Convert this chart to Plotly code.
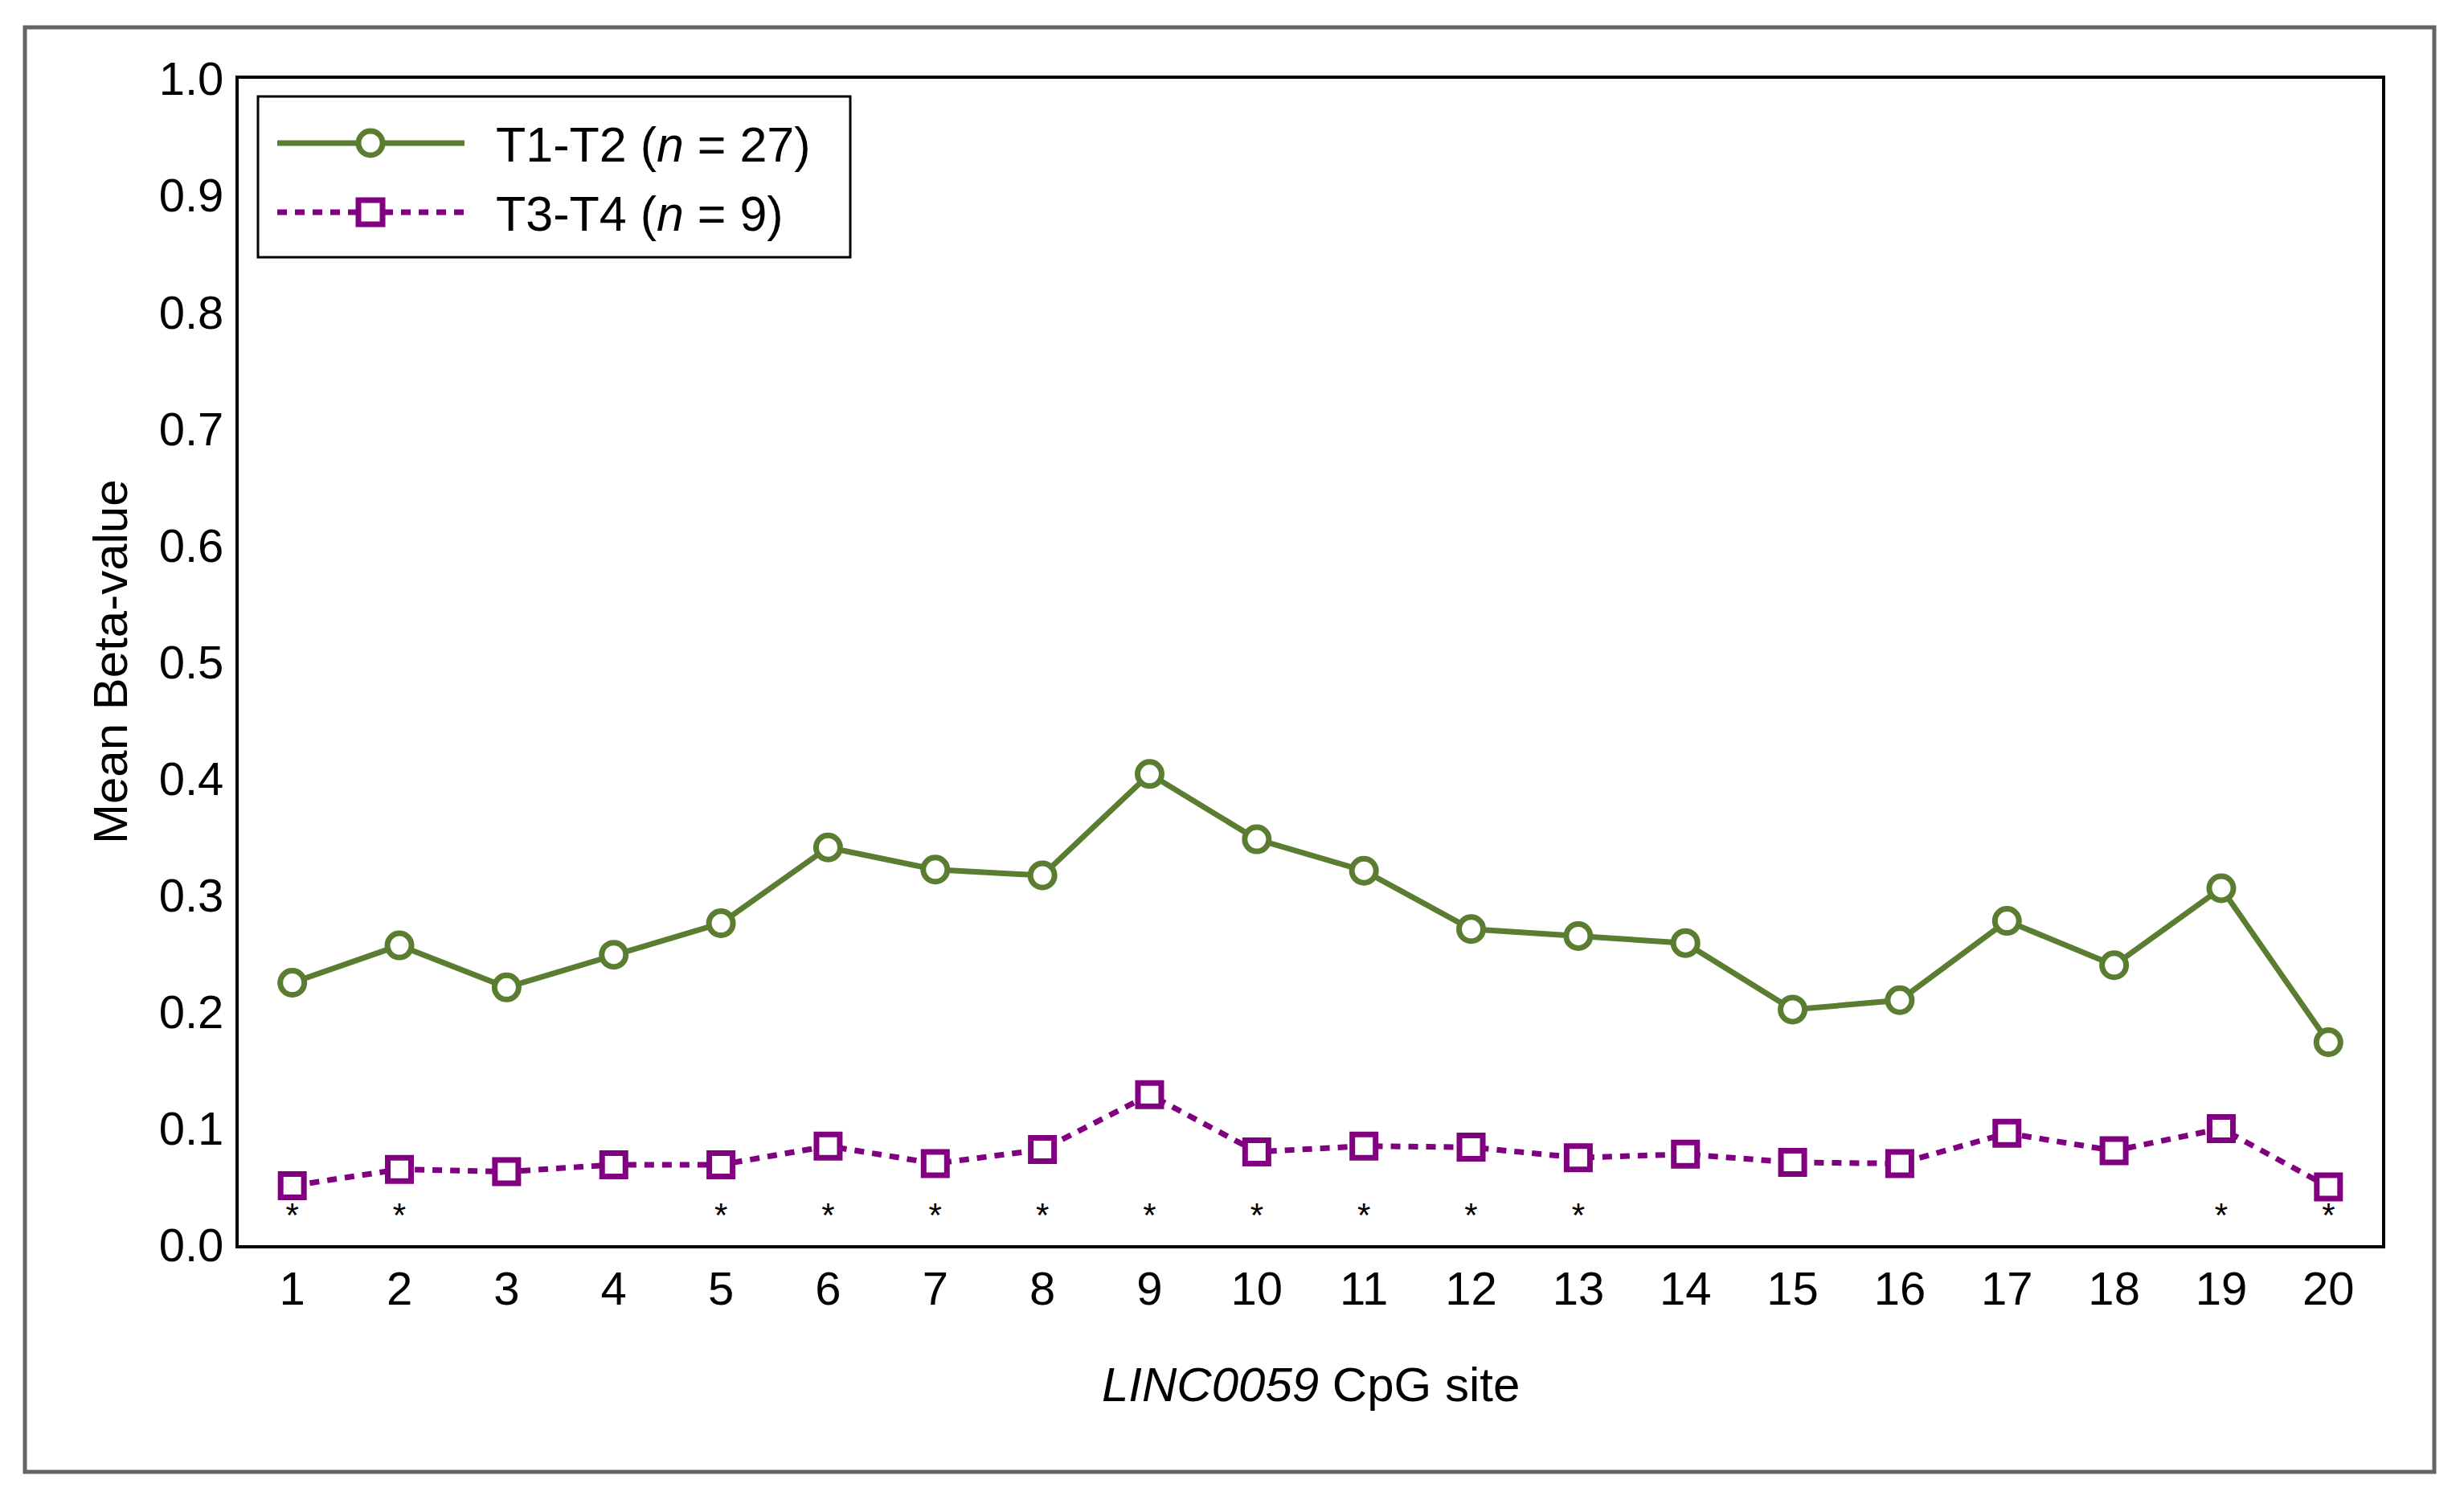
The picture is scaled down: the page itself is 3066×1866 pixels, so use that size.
import plotly.graph_objects as go

sites = list(range(1, 21))
tick_labels = [str(s) for s in sites]
t12_values = [0.225, 0.257, 0.221, 0.249, 0.276, 0.341, 0.322, 0.317, 0.404, 0.348,
              0.321, 0.271, 0.265, 0.259, 0.202, 0.210, 0.278, 0.240, 0.306, 0.174]
t34_values = [0.051, 0.065, 0.063, 0.069, 0.069, 0.085, 0.070, 0.082, 0.129, 0.080,
              0.085, 0.084, 0.075, 0.078, 0.071, 0.070, 0.096, 0.081, 0.100, 0.050]
significant_sites = [1, 2, 5, 6, 7, 8, 9, 10, 11, 12, 13, 19, 20]
star_level = 0.023
y_ticks = [round(i * 0.1, 1) for i in range(11)]

GREEN = "#5A7D31"
PURPLE = "#800080"
FONT = "Liberation Sans, Arial, sans-serif"
DASH = "12px,10px"

W, H = 3066, 1866
L, R, T, B = 297, 102, 98, 317
PW, PH = W - L - R, H - T - B


def px_x(px):
    return (px - L) / PW


def px_y(py):
    return (H - B - py) / PH


fig = go.Figure()
fig.add_trace(go.Scatter(
    x=sites, y=t12_values, mode="lines+markers", name="T1-T2 (n = 27)",
    line=dict(color=GREEN, width=7),
    marker=dict(symbol="circle", size=30, color="white", line=dict(color=GREEN, width=7)),
    showlegend=False,
))
fig.add_trace(go.Scatter(
    x=sites, y=t34_values, mode="lines+markers", name="T3-T4 (n = 9)",
    line=dict(color=PURPLE, width=7, dash=DASH),
    marker=dict(symbol="square", size=29, color="white", line=dict(color=PURPLE, width=7)),
    showlegend=False,
))
fig.add_trace(go.Scatter(
    x=significant_sites, y=[star_level] * len(significant_sites), mode="text",
    text=["*"] * len(significant_sites), textposition="middle center",
    textfont=dict(family=FONT, size=42, color="black"), showlegend=False,
))

shapes = []
# outer frame
shapes.append(dict(type="rect", xref="paper", yref="paper",
                   x0=px_x(31), x1=px_x(3029), y0=px_y(1831), y1=px_y(34),
                   line=dict(color="#646464", width=5), layer="below"))
# legend box
shapes.append(dict(type="rect", xref="paper", yref="paper",
                   x0=px_x(321), x1=px_x(1058), y0=px_y(320), y1=px_y(120),
                   line=dict(color="black", width=3), fillcolor="white"))
legend_rows = [(178, GREEN, "solid", "circle"), (264, PURPLE, DASH, "square")]
for row_y, col, dash, sym in legend_rows:
    shapes.append(dict(type="line", xref="paper", yref="paper",
                       x0=px_x(345), x1=px_x(578), y0=px_y(row_y), y1=px_y(row_y),
                       line=dict(color=col, width=7, dash=dash)))
    half = 15
    shapes.append(dict(type="circle" if sym == "circle" else "rect",
                       xref="paper", yref="paper",
                       xsizemode="pixel", ysizemode="pixel",
                       xanchor=px_x(461), yanchor=px_y(row_y),
                       x0=-half, x1=half, y0=-half, y1=half,
                       line=dict(color=col, width=7), fillcolor="white"))

annotations = [
    dict(text="T1-T2 (<i>n</i> = 27)", xref="paper", yref="paper",
         x=px_x(615), y=px_y(180), xanchor="left", yanchor="middle", showarrow=False,
         font=dict(family=FONT, size=61, color="black")),
    dict(text="T3-T4 (<i>n</i> = 9)", xref="paper", yref="paper",
         x=px_x(615), y=px_y(266), xanchor="left", yanchor="middle", showarrow=False,
         font=dict(family=FONT, size=61, color="black")),
    dict(text="<i>LINC0059</i> CpG site", xref="paper", yref="paper",
         x=0.5, y=px_y(1723), xanchor="center", yanchor="middle", showarrow=False,
         font=dict(family=FONT, size=60, color="black")),
    dict(text="Mean Beta-value", xref="paper", yref="paper", textangle=-90,
         x=px_x(137), y=px_y(823), xanchor="center", yanchor="middle", showarrow=False,
         font=dict(family=FONT, size=60, color="black")),
]

fig.update_layout(
    width=W, height=H,
    margin=dict(l=L, r=R, t=T, b=B, pad=0),
    paper_bgcolor="white", plot_bgcolor="white",
    font=dict(family=FONT, size=58, color="black"),
    shapes=shapes, annotations=annotations,
    xaxis=dict(range=[0.5, 20.5], tickmode="array", tickvals=sites, ticktext=tick_labels,
               showgrid=False, zeroline=False, showline=True, mirror=True,
               linecolor="black", linewidth=4, ticks="", ticklabelstandoff=0,
               tickfont=dict(family=FONT, size=58, color="black")),
    yaxis=dict(range=[0, 1], tickmode="array", tickvals=y_ticks,
               ticktext=[f"{v:.1f}" for v in y_ticks],
               showgrid=False, zeroline=False, showline=True, mirror=True,
               linecolor="black", linewidth=4, ticks="", ticklabelstandoff=3,
               tickfont=dict(family=FONT, size=58, color="black")),
)

fig.write_html("out.html", config={"displayModeBar": False},
               post_script="document.body.style.margin='0';document.body.style.overflow='hidden';")
